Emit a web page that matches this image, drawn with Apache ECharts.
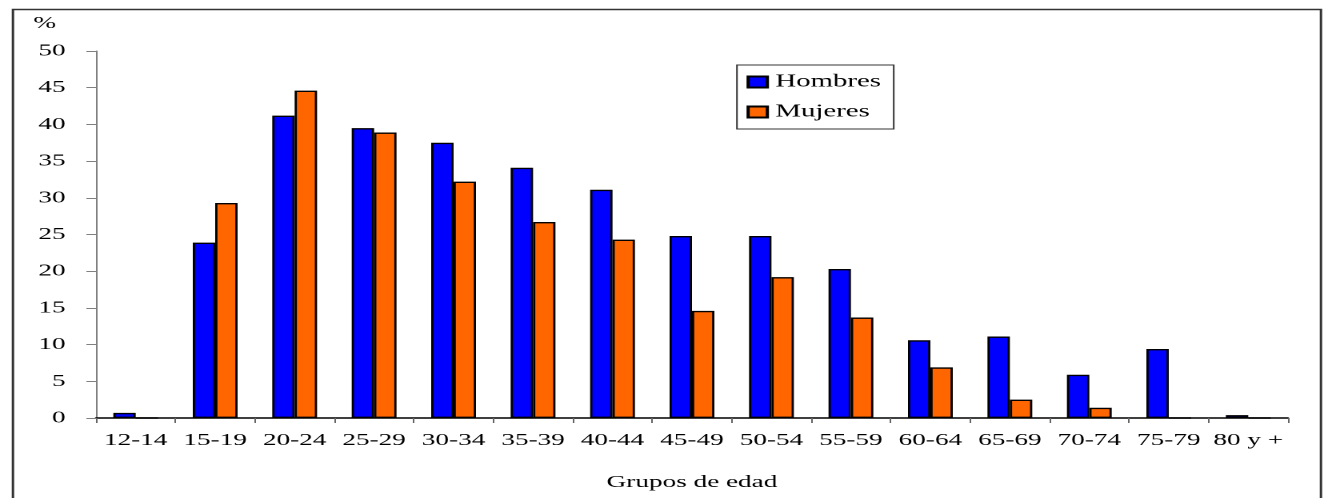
<!DOCTYPE html>
<html>
<head>
<meta charset="utf-8">
<script src="https://cdn.jsdelivr.net/npm/echarts@6/dist/echarts.min.js"></script>
<style>
  html, body { margin: 0; padding: 0; background: #fff; overflow: hidden; }
  #wrap { width: 1323px; height: 498px; overflow: hidden; position: relative; }
  /* chart is laid out narrow, then widened so the serif text appears broad */
  #chart { width: 827px; height: 498px; transform: scaleX(1.6); transform-origin: 0 0; }
</style>
</head>
<body>
<div id="wrap"><div id="chart"></div></div>
<script>
// Age groups
const categories = ['12-14', '15-19', '20-24', '25-29', '30-34', '35-39', '40-44',
  '45-49', '50-54', '55-59', '60-64', '65-69', '70-74', '75-79', '80 y +'];

// Percentages per age group
const hombres = [0.7, 23.9, 41.2, 39.5, 37.5, 34.1, 31.1, 24.8, 24.8, 20.3, 10.6, 11.1, 5.9, 9.4, 0.4];
const mujeres = [0, 29.3, 44.6, 38.9, 32.2, 26.7, 24.3, 14.6, 19.2, 13.7, 6.9, 2.5, 1.4, 0, 0];

const seriesNames = ['Hombres', 'Mujeres'];
const yTicks = { min: 0, max: 50, step: 5 };

const FONT = 'Liberation Serif';

const chart = echarts.init(document.getElementById('chart'), null, { renderer: 'canvas', devicePixelRatio: 2 });

chart.setOption({
  backgroundColor: '#ffffff',
  animation: false,
  textStyle: { fontFamily: FONT, color: '#000' },
  graphic: [{
    type: 'rect',
    left: 5.6, top: 7,
    shape: { width: 817.5, height: 600 },
    style: { fill: 'none', stroke: '#333', lineWidth: 1.5 },
    silent: true
  }],
  grid: { left: 60, right: 22, top: 51, bottom: 80, containLabel: false },
  legend: {
    orient: 'vertical',
    left: 460.6, top: 65,
    padding: [8, 8, 8, 6],
    borderColor: '#333', borderWidth: 1,
    itemWidth: 12, itemHeight: 11, itemGap: 12,
    textStyle: { fontFamily: FONT, fontSize: 18, color: '#000' },
    data: seriesNames.map(n => ({ name: n, icon: 'rect' }))
  },
  xAxis: {
    type: 'category',
    data: categories,
    boundaryGap: true,
    name: 'Grupos de edad',
    nameLocation: 'middle',
    nameGap: 56,
    nameTextStyle: { fontFamily: FONT, fontSize: 17, color: '#000' },
    axisLine: { lineStyle: { color: '#000', width: 1.5 } },
    axisTick: { show: true, length: 5, alignWithLabel: false, lineStyle: { color: '#666', width: 1 } },
    axisLabel: { margin: 14, fontFamily: FONT, fontSize: 17, color: '#000', interval: 0 },
    splitLine: { show: false }
  },
  yAxis: {
    type: 'value',
    min: yTicks.min, max: yTicks.max, interval: yTicks.step,
    name: '%',
    nameLocation: 'end',
    nameGap: 19,
    nameTextStyle: { fontFamily: FONT, fontSize: 17, color: '#000', align: 'right', padding: [0, 25, 0, 0] },
    axisLine: { show: true, lineStyle: { color: '#808080', width: 1 } },
    axisTick: { show: true, length: 6, lineStyle: { color: '#808080', width: 1 } },
    axisLabel: { margin: 19, fontFamily: FONT, fontSize: 17, color: '#000' },
    splitLine: { show: false }
  },
  series: [
    {
      name: seriesNames[0], type: 'bar', data: hombres,
      barWidth: 14, barGap: '0%',
      itemStyle: { color: '#0000ff', borderColor: '#000', borderWidth: 1.4 }
    },
    {
      name: seriesNames[1], type: 'bar', data: mujeres,
      barWidth: 14, barGap: '0%',
      itemStyle: { color: '#ff6600', borderColor: '#000', borderWidth: 1.4 }
    }
  ]
});
</script>
</body>
</html>
